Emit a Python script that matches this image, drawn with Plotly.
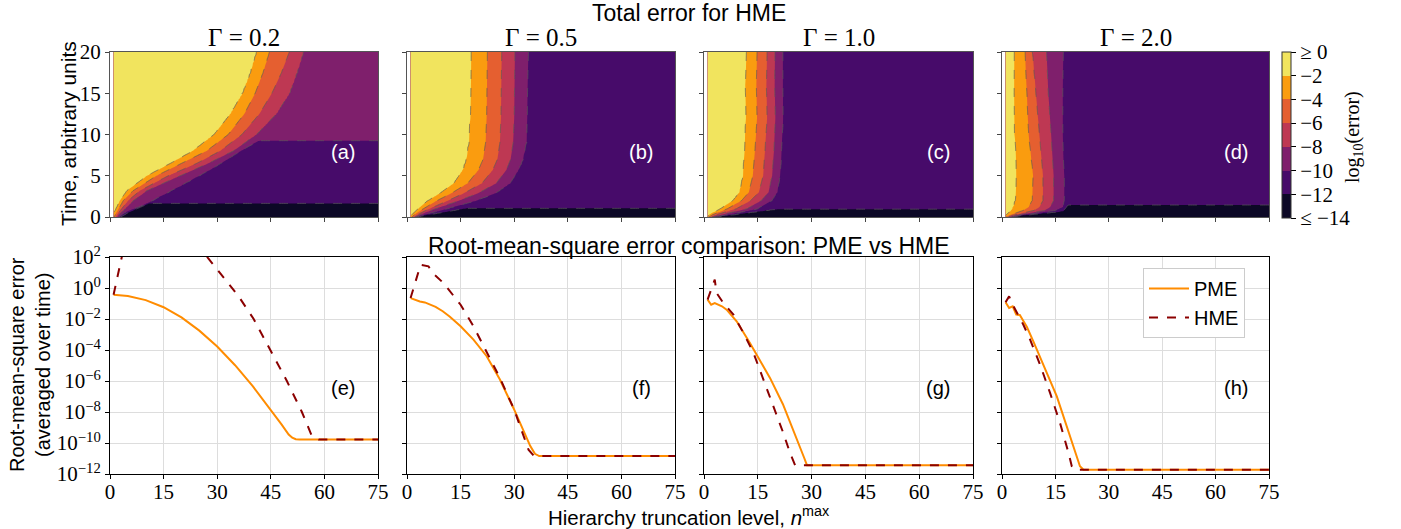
import numpy as np
import plotly.graph_objects as go

W, H = 1401, 529

# ---------------- text / labels ----------------
gamma_labels = ["Γ = 0.2", "Γ = 0.5", "Γ = 1.0", "Γ = 2.0"]
top_letters = ["(a)", "(b)", "(c)", "(d)"]
bot_letters = ["(e)", "(f)", "(g)", "(h)"]

# ---------------- colour bands (log10 error) ----------------
cbar_tickvals = [0, -2, -4, -6, -8, -10, -12, -14]
cbar_ticktext = ["≥ 0", "−2", "−4", "−6", "−8", "−10", "−12", "≤ −14"]
band_colors = ["#0c0826", "#470b6a", "#7f1f6c", "#be3853", "#e55f30", "#fa9c0f", "#f1e45e"]
levels = [-2, -4, -6, -8, -10, -12]

# ---------------- top panels: contour boundaries (t, n) per level -------------
# panel (a)  Gamma = 0.2
a_t = [0, 0.3, 2.0, 3.2, 5.0, 6.5, 8.0, 10.0, 12.5, 15.0, 17.5, 20.0]
a_n2 = [0.8, 0.9, 2.8, 4.7, 10.3, 16.8, 23.0, 29.0, 33.6, 37.0, 39.2, 40.9]
a_n4 = [1.2, 1.5, 3.7, 6.5, 13.0, 20.0, 27.0, 33.1, 37.6, 40.6, 42.8, 44.6]
a_n6 = [1.6, 2.0, 5.1, 8.4, 16.3, 24.3, 30.8, 36.9, 41.8, 45.3, 48.0, 50.2]
a_n8 = [2.0, 2.5, 6.5, 10.3, 19.6, 27.5, 34.5, 41.1, 46.7, 50.4, 52.5, 54.3]
a_t10 = [0, 0.5, 1.6, 3.7, 5.9, 8.0, 9.2]
a_n10 = [2.5, 4.0, 10.3, 19.6, 28.9, 36.7, 41.5]
a_t12 = [0, 0.5, 1.6]
a_n12 = [3.0, 5.0, 10.6]

# panel (b)  Gamma = 0.5
b_t = [0, 0.25, 0.85, 1.9, 2.9, 4.1, 5.7, 7.0, 9.0, 12.0, 20.0]
b_n2 = [1.0, 1.3, 2.7, 5.5, 9.2, 13.0, 15.5, 16.5, 17.2, 17.6, 17.9]
b_n4 = [1.4, 2.0, 4.0, 8.0, 12.5, 17.0, 20.0, 21.3, 22.0, 22.3, 22.5]
b_n6 = [1.8, 2.8, 5.5, 11.0, 16.0, 21.0, 24.0, 25.3, 26.0, 26.3, 26.5]
b_n8 = [2.2, 3.5, 7.0, 14.0, 20.0, 25.0, 27.8, 29.0, 29.7, 30.0, 30.2]
b_n10 = [2.6, 4.5, 10.0, 19.0, 25.0, 29.0, 31.3, 32.6, 33.5, 33.8, 34.0]
b_t12 = [0, 0.2, 0.6, 1.05]
b_n12 = [3.0, 5.0, 11.0, 16.7]

# panel (c)  Gamma = 1.0
c_t = [0, 0.3, 1.0, 2.0, 3.0, 5.0, 8.0, 12.0, 16.0, 20.0]
c_n2 = [1.0, 1.5, 4.5, 8.0, 9.8, 10.8, 11.2, 11.6, 11.5, 11.7]
c_n4 = [1.4, 2.5, 6.5, 10.5, 12.5, 13.6, 14.2, 14.8, 14.6, 14.8]
c_n6 = [1.8, 3.5, 9.0, 13.0, 15.3, 16.5, 17.0, 17.6, 17.4, 17.6]
c_n8 = [2.2, 5.0, 12.0, 16.0, 18.0, 19.0, 19.5, 19.9, 19.7, 19.8]
c_n10 = [2.6, 7.0, 15.0, 19.0, 20.5, 21.3, 21.7, 22.1, 22.0, 22.0]
c_t12 = [0, 0.3, 0.9]
c_n12 = [3.0, 9.0, 20.0]

# panel (d)  Gamma = 2.0
d_t = [0, 0.2, 0.8, 1.2, 2.0, 5.0, 10.0, 15.0, 20.0]
d_n2 = [0.8, 1.0, 2.5, 3.0, 3.6, 4.0, 3.5, 3.3, 3.4]
d_n4 = [1.2, 2.0, 6.0, 7.5, 8.5, 8.8, 7.5, 7.0, 6.5]
d_n6 = [1.6, 3.0, 9.0, 10.5, 11.5, 11.5, 10.5, 9.5, 8.5]
d_n8 = [2.0, 4.0, 12.0, 13.5, 14.5, 14.5, 13.8, 13.0, 12.5]
d_n10 = [2.4, 5.0, 15.0, 17.3, 17.5, 17.5, 17.2, 17.2, 17.4]
d_t12 = [0, 0.2, 0.65, 1.45]
d_n12 = [3.0, 6.0, 17.2, 18.5]

panels_bounds = [
    {-2: (a_t, a_n2), -4: (a_t, a_n4), -6: (a_t, a_n6), -8: (a_t, a_n8), -10: (a_t10, a_n10), -12: (a_t12, a_n12)},
    {-2: (b_t, b_n2), -4: (b_t, b_n4), -6: (b_t, b_n6), -8: (b_t, b_n8), -10: (b_t, b_n10), -12: (b_t12, b_n12)},
    {-2: (c_t, c_n2), -4: (c_t, c_n4), -6: (c_t, c_n6), -8: (c_t, c_n8), -10: (c_t, c_n10), -12: (c_t12, c_n12)},
    {-2: (d_t, d_n2), -4: (d_t, d_n4), -6: (d_t, d_n6), -8: (d_t, d_n8), -10: (d_t, d_n10), -12: (d_t12, d_n12)},
]

# ---------------- bottom panels: RMS error (log10) vs truncation level ----------------
n_pme_e = [1, 5, 10, 15, 20, 25, 30, 35, 40, 45, 48, 50, 51, 52, 53, 75]
log_pme_e = [-0.43, -0.52, -0.78, -1.24, -1.9, -2.75, -3.78, -4.98, -6.35, -7.85, -8.8, -9.45, -9.66, -9.76, -9.78, -9.78]
n_hme_e = [1, 2, 3, 4, 10, 20, 26, 27.4, 30, 33, 36, 40.2, 44.9, 49.5, 53.7, 56.5, 58.4, 75]
log_hme_e = [-0.43, 0.63, 1.69, 2.74, 5.0, 5.0, 2.4, 1.94, 1.2, 0.35, -0.54, -2.0, -4.0, -6.0, -8.0, -9.55, -9.78, -9.78]

n_pme_f = [1, 2, 3.6, 5, 6.4, 8, 10, 12, 15, 18.6, 22.3, 26, 30, 32.6, 34.5, 35.8, 37, 75]
log_pme_f = [-0.65, -0.75, -0.87, -0.93, -1.05, -1.22, -1.5, -1.85, -2.47, -3.33, -4.4, -5.9, -7.85, -9.2, -10.2, -10.7, -10.84, -10.84]
n_hme_f = [1, 3.8, 6, 7.4, 10.2, 12, 15, 18.6, 22.3, 26, 30, 32.6, 34, 35.4, 36.5, 75]
log_hme_f = [-0.65, 1.5, 1.4, 0.92, 0.32, -0.21, -1.08, -2.47, -4.09, -5.8, -7.85, -9.57, -10.43, -10.8, -10.84, -10.84]

n_pme_g = [1, 2, 3, 5, 6.3, 9.1, 12.8, 15, 18.4, 22, 25.9, 27, 28, 28.7, 75]
log_pme_g = [-0.75, -1.08, -0.97, -1.18, -1.4, -2.15, -3.55, -4.4, -5.8, -7.5, -9.7, -10.35, -11.0, -11.43, -11.43]
n_hme_g = [1, 3, 3.5, 5.4, 8.2, 11, 13.8, 16.6, 19.4, 22.1, 24, 25.4, 75]
log_hme_g = [-0.75, 0.54, -0.32, -0.97, -1.72, -2.9, -4.19, -5.9, -7.63, -9.35, -10.65, -11.43, -11.43]

n_pme_h = [1, 2, 3, 4, 5, 6, 7, 8.8, 10.7, 13, 15.4, 18.2, 21, 21.9, 22.9, 75]
log_pme_h = [-0.92, -1.29, -1.18, -1.72, -1.74, -2.15, -2.52, -3.44, -4.41, -5.7, -6.99, -8.92, -10.86, -11.5, -11.72, -11.72]
n_hme_h = [1, 2, 3, 4.1, 6, 7.9, 10.7, 13.5, 16.3, 18.7, 19.6, 20.5, 75]
log_hme_h = [-0.92, -0.54, -1.08, -1.57, -2.37, -3.33, -4.95, -6.77, -8.71, -10.65, -11.5, -11.72, -11.72]

lines_data = [
    (n_pme_e, log_pme_e, n_hme_e, log_hme_e),
    (n_pme_f, log_pme_f, n_hme_f, log_hme_f),
    (n_pme_g, log_pme_g, n_hme_g, log_hme_g),
    (n_pme_h, log_pme_h, n_hme_h, log_hme_h),
]

x_ticks = [0, 15, 30, 45, 60, 75]
t_ticks = [0, 5, 10, 15, 20]
y_exps = [2, 0, -2, -4, -6, -8, -10, -12]

# ---------------- build contour fields from the boundaries ----------------
n_grid = np.arange(1.0, 75.01, 0.5)
t_grid = np.arange(0.0, 20.001, 0.1)


def field(bounds):
    Z = np.empty((len(t_grid), len(n_grid)))
    for i, t in enumerate(t_grid):
        xs, fs = [], []
        for L in levels:
            tp, npts = bounds[L]
            if t <= max(tp) + 1e-9:
                xs.append(float(np.interp(t, tp, npts)))
                fs.append(L)
        for k in range(1, len(xs)):
            if xs[k] <= xs[k - 1] + 0.05:
                xs[k] = xs[k - 1] + 0.05
        xp = [xs[0] - 0.6] + xs + [xs[-1] + 0.6]
        fp = [fs[0] + 1] + fs + [fs[-1] - 1]
        Z[i] = np.interp(n_grid, xp, fp)
    return np.round(Z, 3)


cs = []
for i, c in enumerate(band_colors):
    cs.append([i / 7, c])
    cs.append([(i + 1) / 7, c])

# ---------------- geometry (pixels) ----------------
px_x = [(110, 378), (407, 675), (704, 973), (1002, 1269)]
top_y = (52, 217)
bot_y = (257, 474)


def xd(p):
    return [p[0] / W, p[1] / W]


def yd(p):
    return [1 - p[1] / H, 1 - p[0] / H]


SERIF = "Liberation Serif"
SANS = "Liberation Sans"
TICK = 21

fig = go.Figure()
layout = dict(width=W, height=H, margin=dict(l=0, r=0, t=0, b=0, autoexpand=False),
              paper_bgcolor="white", plot_bgcolor="white", showlegend=True)

for k in range(4):
    xa, ya = f"x{k+1}", f"y{k+1}"
    fig.add_trace(go.Contour(
        x=n_grid, y=t_grid, z=field(panels_bounds[k]), xaxis=xa, yaxis=ya,
        colorscale=cs, zmin=-14, zmax=0, autocontour=False,
        contours=dict(start=-12, end=-2, size=2, coloring="fill", showlines=True),
        line=dict(color="rgba(90,90,90,0.85)", width=0.8, dash="dash"),
        showscale=False, hoverinfo="skip"))
    layout[f"xaxis{k+1}"] = dict(domain=xd(px_x[k]), anchor=ya, range=[0, 75], automargin=False,
                                 tickvals=x_ticks, showticklabels=False, ticks="outside",
                                 ticklen=4, tickcolor="#444", showgrid=False, zeroline=False,
                                 showline=True, linecolor="#555", mirror=True)
    layout[f"yaxis{k+1}"] = dict(domain=yd(top_y), anchor=xa, range=[0, 20], automargin=False,
                                 tickvals=t_ticks, showticklabels=(k == 0), ticks="outside",
                                 ticklen=4, tickcolor="#444", showgrid=False, zeroline=False,
                                 showline=True, linecolor="#555", mirror=True,
                                 tickfont=dict(family=SERIF, size=TICK, color="black"))

# colour bar (separate marker trace so that its bands are exact)
fig.add_trace(go.Scatter(
    x=[None], y=[None], xaxis="x1", yaxis="y1", mode="markers", showlegend=False,
    marker=dict(color=[-14], colorscale=cs, cmin=-14, cmax=0, showscale=True,
                colorbar=dict(thickness=9, thicknessmode="pixels", len=166, lenmode="pixels",
                              x=1282 / W, xanchor="left", xpad=0, y=1 - 52 / H, yanchor="top",
                              ypad=0, outlinewidth=1, outlinecolor="#333",
                              tickvals=cbar_tickvals, ticktext=cbar_ticktext,
                              ticks="outside", ticklen=5, tickcolor="black",
                              tickfont=dict(family=SERIF, size=TICK, color="black"))),
    hoverinfo="skip"))

for k in range(4):
    xa, ya = f"x{k+5}", f"y{k+5}"
    npme, lpme, nhme, lhme = lines_data[k]
    fig.add_trace(go.Scatter(x=npme, y=np.power(10.0, lpme), xaxis=xa, yaxis=ya, mode="lines",
                             line=dict(color="#ff8c00", width=2), name="PME",
                             showlegend=(k == 3), legendrank=1))
    fig.add_trace(go.Scatter(x=nhme, y=np.power(10.0, lhme), xaxis=xa, yaxis=ya, mode="lines",
                             line=dict(color="#8b0000", width=2, dash="dash"), name="HME",
                             showlegend=(k == 3), legendrank=2))
    layout[f"xaxis{k+5}"] = dict(domain=xd(px_x[k]), anchor=ya, range=[0, 75], automargin=False,
                                 tickvals=x_ticks, ticks="outside", ticklen=4, tickcolor="black",
                                 ticklabelstandoff=-5,
                                 showgrid=True, gridcolor="#dddddd", zeroline=False,
                                 showline=True, linecolor="black", mirror=True,
                                 tickfont=dict(family=SERIF, size=TICK, color="black"))
    layout[f"yaxis{k+5}"] = dict(domain=yd(bot_y), anchor=xa, type="log", range=[-12, 2],
                                 automargin=False,
                                 tickvals=[10.0 ** e for e in y_exps],
                                 ticktext=[f"10<sup>{str(e).replace('-', '−')}</sup>" for e in y_exps],
                                 showticklabels=(k == 0), ticks="outside", ticklen=4, tickcolor="black",
                                 showgrid=True, gridcolor="#dddddd", zeroline=False,
                                 showline=True, linecolor="black", mirror=True,
                                 tickfont=dict(family=SERIF, size=TICK, color="black"))

layout["legend"] = dict(x=1143 / W, y=1 - 268 / H, xanchor="left", yanchor="top",
                        bgcolor="white", bordercolor="#cccccc", borderwidth=1,
                        font=dict(family=SANS, size=20, color="black"),
                        traceorder="normal", itemwidth=40)

ann = []


def add_text(x, y, text, size, family=SANS, color="black", angle=0):
    ann.append(dict(x=x / W, y=1 - y / H, xref="paper", yref="paper", text=text,
                    showarrow=False, xanchor="center", yanchor="middle", textangle=angle,
                    font=dict(family=family, size=size, color=color)))


add_text(689, 13, "Total error for HME", 23)
add_text(689, 246, "Root-mean-square error comparison: PME vs HME", 23)
add_text(689, 516, "Hierarchy truncation level, <i>n</i><sup>max</sup>", 20.5)
add_text(68, 134, "Time, arbitrary units", 21, angle=-90)
add_text(30, 365, "Root-mean-square error<br>(averaged over time)", 20, angle=-90)
add_text(1353, 137, "log<sub>10</sub>(error)", 20, family=SERIF, angle=-90)
top_lx = [343, 641, 938, 1236]
for k in range(4):
    cx = (px_x[k][0] + px_x[k][1]) / 2
    add_text(cx, 37, gamma_labels[k], 25, family=SERIF)
    add_text(top_lx[k], 152, top_letters[k], 20, color="white")
    add_text(top_lx[k], 388, bot_letters[k], 20)
layout["annotations"] = ann

fig.update_layout(**layout)
fig.write_html("out.html", config={"displayModeBar": False},
               post_script="document.body.style.margin='0px';document.body.style.overflow='hidden';")
